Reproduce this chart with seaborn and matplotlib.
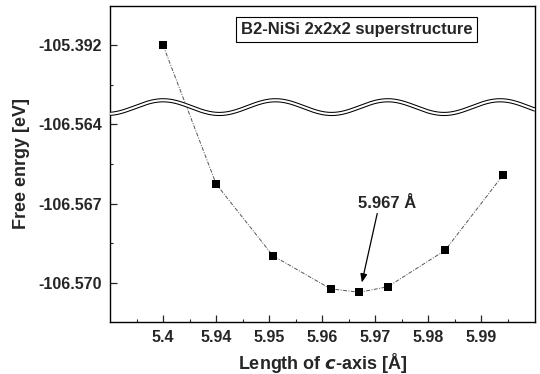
import numpy as np
import pandas as pd
import matplotlib
matplotlib.use("Agg")
import matplotlib.pyplot as plt
import seaborn as sns
from matplotlib.ticker import FixedLocator

# ---- data ----
c_axis = [5.4, 5.94, 5.9507, 5.9616, 5.967, 5.9724, 5.9832, 5.9941]
energy = [-105.392, -106.56626, -106.56898, -106.57024, -106.57037, -106.57016, -106.56878, -106.56593]
x_ticks = [5.4, 5.94, 5.95, 5.96, 5.97, 5.98, 5.99]
y_ticks = [-105.392, -106.564, -106.567, -106.570]

# broken-axis mapping (real value -> drawn position)
X_BREAK = {5.4: 5.93}
Y_BREAK = {-105.392: -106.561}

def mx(v):
    return X_BREAK.get(v, v)

def my(v):
    return Y_BREAK.get(v, v)

df = pd.DataFrame({"x": [mx(v) for v in c_axis], "y": [my(v) for v in energy]})

sns.set_style("ticks")
plt.rcParams['font.family'] = ['Liberation Sans', 'DejaVu Sans']
plt.rcParams['font.weight'] = 'bold'

fig = plt.figure(figsize=(5.4, 3.74), dpi=100)
ax = fig.add_axes([0.204, 0.139, 0.787, 0.845])

sns.lineplot(data=df, x="x", y="y", ax=ax, color="#555555", lw=0.7,
             linestyle=(0, (4, 1.5, 1, 1.5)), sort=False, zorder=2)
sns.scatterplot(data=df, x="x", y="y", ax=ax, marker="s", color="black",
                s=28, edgecolor="black", linewidth=0, zorder=4)

ax.set_xlim(5.92, 6.0002)
ax.set_ylim(-106.5715, -106.5595)

# wavy break band
wx = np.linspace(5.92, 6.0002, 400)
wy = -106.56334 + 0.00026 * np.cos(2 * np.pi * (wx - 5.93) / 0.0212)
ax.plot(wx, wy, color="black", lw=3.0, zorder=3, solid_capstyle="butt")
ax.plot(wx, wy, color="white", lw=1.5, zorder=3.1, solid_capstyle="butt")

ax.xaxis.set_major_locator(FixedLocator([mx(v) for v in x_ticks]))
ax.set_xticklabels([f"{v:g}" for v in x_ticks])
ax.yaxis.set_major_locator(FixedLocator([my(v) for v in y_ticks]))
ax.set_yticklabels([f"{v:.3f}" for v in y_ticks])
ax.xaxis.set_minor_locator(FixedLocator([5.925 + 0.01 * i for i in range(8)]))
ax.yaxis.set_minor_locator(FixedLocator([-106.5625, -106.5655, -106.5685]))

ax.tick_params(which="major", direction="in", length=5, width=0.9,
               labelsize=11.5, pad=6)
ax.tick_params(which="minor", direction="in", length=2.5, width=0.8)
for lab in ax.get_xticklabels() + ax.get_yticklabels():
    lab.set_fontweight("bold")
for s in ax.spines.values():
    s.set_linewidth(1.0)
    s.set_color("black")

ax.set_xlabel(r"Length of $\bf{\it{c}}$-axis [Å]", fontsize=13, fontweight="bold", labelpad=4)
ax.set_ylabel("Free enrgy [eV]", fontsize=13, fontweight="bold", labelpad=6)

ax.text(0.58, 0.925, "B2-NiSi 2x2x2 superstructure", transform=ax.transAxes,
        ha="center", va="center", fontsize=12, fontweight="bold",
        bbox=dict(boxstyle="square,pad=0.3", facecolor="white", edgecolor="black", lw=0.8),
        zorder=5)

ax.text(5.9723, -106.567, "5.967 Å", ha="center", va="center",
        fontsize=12, fontweight="bold")
ax.annotate("", xy=(5.9675, -106.57), xytext=(5.9704, -106.56738),
            arrowprops=dict(arrowstyle="-|>,head_length=0.5,head_width=0.2",
                            color="black", lw=0.9, shrinkA=0, shrinkB=0))

fig.savefig("out.png", dpi=100)
